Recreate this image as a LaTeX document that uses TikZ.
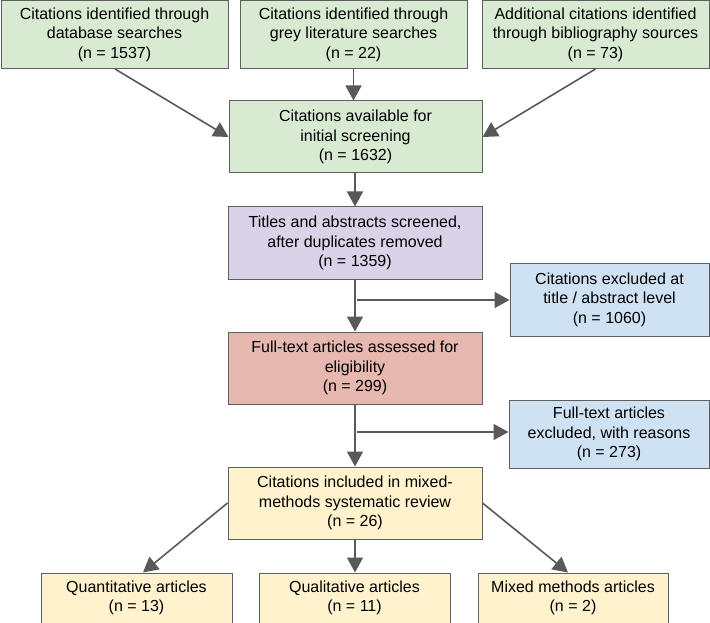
\documentclass[tikz,border=0pt]{standalone}
\usepackage{fontspec}
\setmainfont{Liberation Sans}
\usetikzlibrary{arrows.meta}
\definecolor{bordc}{HTML}{5F5F5F}
\definecolor{arrc}{HTML}{595959}
\definecolor{cgreen}{HTML}{D9EAD3}
\definecolor{cpurple}{HTML}{D9D2E9}
\definecolor{csalmon}{HTML}{E6B8AF}
\definecolor{cblue}{HTML}{CFE2F3}
\definecolor{cyellow}{HTML}{FFF2CC}
\tikzset{
  box/.style={draw=bordc, line width=1pt, align=center, inner sep=0pt,
    font=\fontsize{16}{19.5}\selectfont, text=black},
  arr/.style={draw=arrc, line width=1.6pt, -{Triangle[length=15pt,width=16pt]}}
}
\begin{document}
\begin{tikzpicture}[x=1pt,y=1pt]
\useasboundingbox (0,0) rectangle (710,-623);
% top row
\node[box, fill=cgreen, minimum width=227pt, minimum height=68pt] (b1) at (114.5,-34.5)
  {Citations identified through\\database searches\\(n = 1537)};
\node[box, fill=cgreen, minimum width=227pt, minimum height=68pt] (b2) at (353.5,-34.5)
  {Citations identified through\\grey literature searches\\(n = 22)};
\node[box, fill=cgreen, minimum width=227pt, minimum height=68pt] (b3) at (595.5,-34.5)
  {Additional citations identified\\through bibliography sources\\(n = 73)};
% main column
\node[box, fill=cgreen, minimum width=253pt, minimum height=72pt] (av) at (355.5,-137)
  {Citations available for\\initial screening\\(n = 1632)};
\node[box, fill=cpurple, minimum width=254pt, minimum height=72pt] (ti) at (355,-243)
  {Titles and abstracts screened,\\after duplicates removed\\(n = 1359)};
\node[box, fill=csalmon, minimum width=254pt, minimum height=72pt] (ft) at (355,-368)
  {Full-text articles assessed for\\eligibility\\(n = 299)};
\node[box, fill=cyellow, minimum width=254pt, minimum height=72pt] (in) at (355,-503)
  {Citations included in mixed-\\methods systematic review\\(n = 26)};
% exclusions
\node[box, fill=cblue, minimum width=199pt, minimum height=73pt] (e1) at (609.5,-299.5)
  {Citations excluded at\\title / abstract level\\(n = 1060)};
\node[box, fill=cblue, minimum width=200pt, minimum height=68pt] (e2) at (609,-434)
  {Full-text articles\\excluded, with reasons\\(n = 273)};
% bottom row
\node[box, fill=cyellow, minimum width=191pt, minimum height=50pt] (qa) at (136.5,-598)
  {Quantitative articles\\(n = 13)};
\node[box, fill=cyellow, minimum width=191pt, minimum height=50pt] (ql) at (354.5,-598)
  {Qualitative articles\\(n = 11)};
\node[box, fill=cyellow, minimum width=190pt, minimum height=50pt] (mm) at (573,-598)
  {Mixed methods articles\\(n = 2)};
% junction points
\coordinate (j1) at (355,-300);
\coordinate (j2) at (355,-432);
% connectors
\draw[arr] ([xshift=0.5pt]b1.south) -- (av.west);
\draw[arr] (b2.south) -- (b2.south |- av.north);
\draw[arr] (b3.south) -- (av.east);
\draw[arr] (av.south -| ti.north) -- (ti.north);
\draw[arr] (ti.south) -- (ft.north);
\draw[arr] ([xshift=2pt]j1) -- (e1.west |- j1);
\draw[arr] (ft.south) -- (in.north);
\draw[arr] ([xshift=2pt]j2) -- (e2.west |- j2);
\draw[arr] (in.west) -- ([xshift=6.5pt]qa.north);
\draw[arr] (in.south) -- (in.south |- ql.north);
\draw[arr] (in.east) -- ([xshift=-5pt]mm.north);
\end{tikzpicture}
\end{document}
